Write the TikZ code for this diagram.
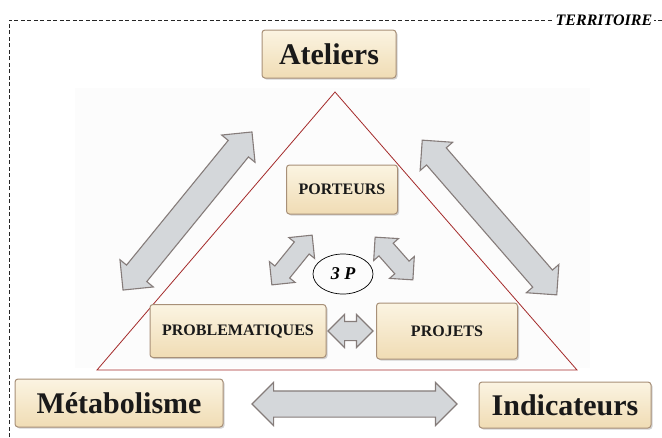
\documentclass[tikz,border=0pt]{standalone}
\usepackage{fontspec}
\setmainfont{Liberation Serif}
\usetikzlibrary{shapes.arrows,shapes.geometric,shadows}
\definecolor{boxtop}{HTML}{FBF4E2}
\definecolor{boxbottom}{HTML}{F0DCB4}
\definecolor{boxline}{HTML}{A89078}
\definecolor{arrowfill}{HTML}{D4D7DA}
\definecolor{arrowline}{HTML}{857C7A}
\definecolor{trired}{HTML}{A42A2A}
\tikzset{
  box/.style={draw=boxline, line width=1pt, rounded corners=3pt,
    top color=boxtop, bottom color=boxbottom,
    drop shadow={shadow xshift=1.5pt, shadow yshift=-1.5pt, fill=black!35},
    text=black!90, inner sep=0pt},
  bigbox/.style={box, font=\fontsize{30}{36}\selectfont\bfseries},
  smallbox/.style={box, font=\fontsize{16}{19}\selectfont\bfseries},
  bigarrow/.style={double arrow, draw=arrowline, line width=1.1pt, fill=arrowfill,
    inner xsep=0pt, inner ysep=12.5pt, double arrow head extend=8.5pt},
  smallarrow/.style={bigarrow, inner ysep=9pt, double arrow head extend=7pt}
}
\begin{document}
\begin{tikzpicture}[x=1pt,y=-1pt]
  \useasboundingbox (0,0) rectangle (662,437);
  \fill[black!1.2] (75,88) rectangle (590,368);
  \draw[black!85, dash pattern=on 4pt off 2.5pt, line width=0.7pt] (9,437) -- (9,20) -- (662,20);
  \node[fill=white, inner sep=2pt, font=\fontsize{16}{19}\selectfont\bfseries\itshape] (territoire) at (604,20) {TERRITOIRE};

  \node[bigbox, minimum width=134pt, minimum height=48pt] (ateliers) at (329,54) {Ateliers};
  \node[bigbox, minimum width=208pt, minimum height=48pt] (metabolisme) at (119,403) {Métabolisme};
  \node[bigbox, minimum width=172pt, minimum height=46pt] (indicateurs) at (565,405) {Indicateurs};

  \draw[trired, line width=0.8pt] (335,92) -- (97,370) -- (577,370) -- cycle;

  \node[smallbox, minimum width=111pt, minimum height=49pt] (porteurs) at (342,189.5) {PORTEURS};
  \node[smallbox, minimum width=176pt, minimum height=53pt] (problematiques) at (238,331) {PROBLEMATIQUES};
  \node[smallbox, minimum width=141pt, minimum height=56pt] (projets) at (447,331) {PROJETS};
  \node[ellipse, draw, line width=0.7pt, minimum width=60pt, minimum height=40pt, inner sep=0pt,
    font=\fontsize{18}{21}\selectfont\bfseries\itshape] (troisP) at (343,274) {3 P};

  \node[bigarrow, minimum height=204pt, rotate=50.8] (flecheAM) at (187.5,211) {};
  \node[bigarrow, minimum height=205pt, rotate=-49] (flecheAI) at (489.5,217.5) {};
  \node[bigarrow, minimum height=205pt] (flecheMI) at (354.5,404) {};
  \node[smallarrow, minimum height=64pt, rotate=51] (flechePB) at (292,260) {};
  \node[smallarrow, minimum height=57pt, rotate=-48.5] (flechePJ) at (394,258.5) {};
  \node[smallarrow, minimum height=45pt] (flecheBJ) at (350.5,331) {};
\end{tikzpicture}
\end{document}
